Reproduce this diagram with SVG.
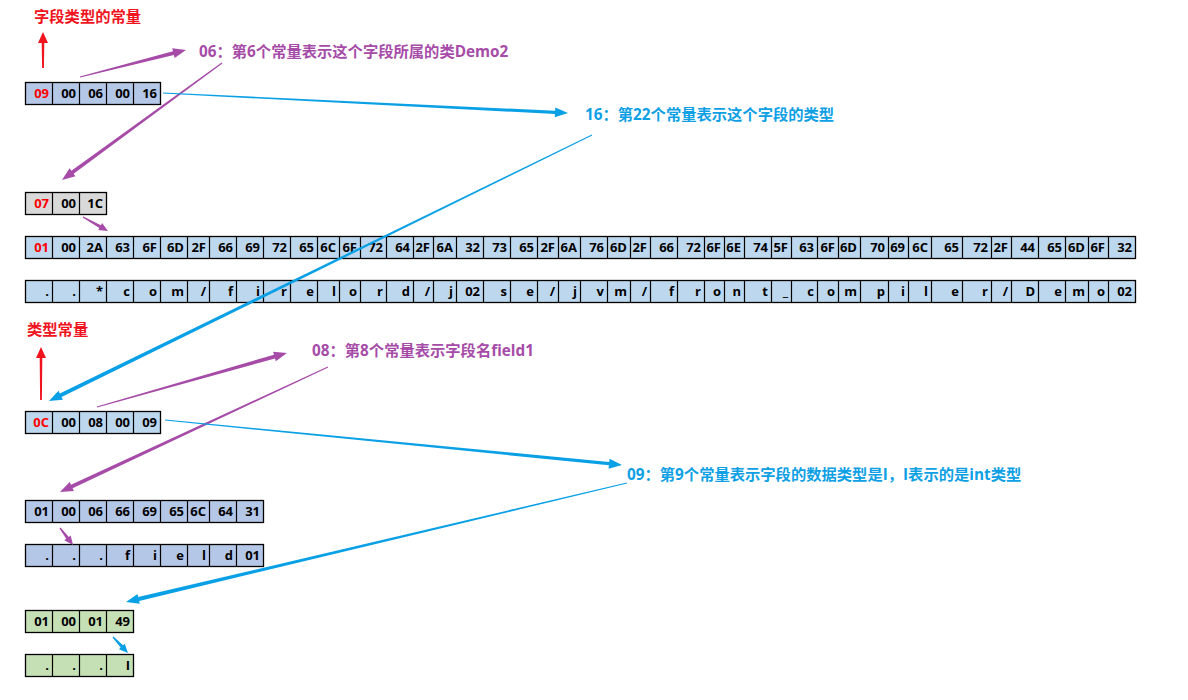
<svg xmlns="http://www.w3.org/2000/svg" width="1188" height="700" viewBox="0 0 1188 700">
<style>
.c{font-family:"Open Sans","Noto Sans CJK SC",sans-serif;font-weight:bold;font-size:13px;fill:#000;text-anchor:end}
.r{fill:#ff0000}
.lbl{font-family:"Open Sans","Noto Sans CJK SC",sans-serif;font-weight:bold;font-size:15.3px}
.pt{fill:#a64ca8}
.bt{fill:#0ea0e4}
.rt{fill:#f0141e}
.b1{fill:#b4c7e7}
.b2{fill:#bdd7ee}
.gy{fill:#d9d9d9}
.gr{fill:#c5e0b4}
.bx{stroke:#000;stroke-width:1.3}
.ln{stroke:#000;stroke-width:1.2;fill:none}
.pa{fill:#a64ca8}
.ba{fill:#0aa0e6}
.ra{fill:#f0141e}
</style>
<rect width="1188" height="700" fill="#fff"/>

<g id="label-field-type">
<text class="lbl rt" x="34" y="22">字段类型的常量</text>
</g>
<g id="label-06">
<text class="lbl pt" x="199" y="57">06：第6个常量表示这个字段所属的类Demo2</text>
</g>
<g id="label-16">
<text class="lbl bt" x="585" y="120">16：第22个常量表示这个字段的类型</text>
</g>
<g id="label-type-const">
<text class="lbl rt" x="27" y="335">类型常量</text>
</g>
<g id="label-08">
<text class="lbl pt" x="312" y="356">08：第8个常量表示字段名field1</text>
</g>
<g id="label-09">
<text class="lbl bt" x="627" y="480">09：第9个常量表示字段的数据类型是I，I表示的是int类型</text>
</g>

<g id="table-field">
<rect class="b1 bx" x="25.5" y="82.5" width="135" height="22"/>
<path class="ln" d="M52.5 82.5V104.5M79.5 82.5V104.5M106.5 82.5V104.5M133.5 82.5V104.5"/>
<text class="c r" x="49" y="98">09</text><text class="c" x="76" y="98">00</text><text class="c" x="103" y="98">06</text><text class="c" x="130" y="98">00</text><text class="c" x="157" y="98">16</text>
</g>

<g id="table-class">
<rect class="gy bx" x="25.5" y="192.5" width="81" height="22"/>
<path class="ln" d="M52.5 192.5V214.5M79.5 192.5V214.5"/>
<text class="c r" x="49" y="208">07</text><text class="c" x="76" y="208">00</text><text class="c" x="103" y="208">1C</text>
</g>

<g id="utf8-classname-hex">
<rect class="b2 bx" x="25.5" y="236.5" width="1110" height="22"/>
<path class="ln" d="M52.5 236.5V258.5M79.5 236.5V258.5M106.5 236.5V258.5M133.5 236.5V258.5M160.5 236.5V258.5M187.5 236.5V258.5M209.5 236.5V258.5M236.5 236.5V258.5M263.5 236.5V258.5M290.5 236.5V258.5M317.5 236.5V258.5M339.5 236.5V258.5M360.5 236.5V258.5M386.5 236.5V258.5M413.5 236.5V258.5M433.5 236.5V258.5M456.5 236.5V258.5M483.5 236.5V258.5M510.5 236.5V258.5M537.5 236.5V258.5M558.5 236.5V258.5M580.5 236.5V258.5M607.5 236.5V258.5M630.5 236.5V258.5M650.5 236.5V258.5M677.5 236.5V258.5M704.5 236.5V258.5M724.5 236.5V258.5M744.5 236.5V258.5M771.5 236.5V258.5M791.5 236.5V258.5M817.5 236.5V258.5M838.5 236.5V258.5M860.5 236.5V258.5M888.5 236.5V258.5M908.5 236.5V258.5M931.5 236.5V258.5M962.5 236.5V258.5M991.5 236.5V258.5M1011.5 236.5V258.5M1038.5 236.5V258.5M1065.5 236.5V258.5M1088.5 236.5V258.5M1108.5 236.5V258.5"/>
<text class="c r" x="49" y="252">01</text>
<text class="c" x="76" y="252">00</text>
<text class="c" x="103" y="252">2A</text>
<text class="c" x="130" y="252">63</text>
<text class="c" x="157" y="252">6F</text>
<text class="c" x="184" y="252">6D</text>
<text class="c" x="206" y="252">2F</text>
<text class="c" x="233" y="252">66</text>
<text class="c" x="260" y="252">69</text>
<text class="c" x="287" y="252">72</text>
<text class="c" x="314" y="252">65</text>
<text class="c" x="336" y="252">6C</text>
<text class="c" x="357" y="252">6F</text>
<text class="c" x="383" y="252">72</text>
<text class="c" x="410" y="252">64</text>
<text class="c" x="430" y="252">2F</text>
<text class="c" x="453" y="252">6A</text>
<text class="c" x="480" y="252">32</text>
<text class="c" x="507" y="252">73</text>
<text class="c" x="534" y="252">65</text>
<text class="c" x="555" y="252">2F</text>
<text class="c" x="577" y="252">6A</text>
<text class="c" x="604" y="252">76</text>
<text class="c" x="627" y="252">6D</text>
<text class="c" x="647" y="252">2F</text>
<text class="c" x="674" y="252">66</text>
<text class="c" x="701" y="252">72</text>
<text class="c" x="721" y="252">6F</text>
<text class="c" x="741" y="252">6E</text>
<text class="c" x="768" y="252">74</text>
<text class="c" x="788" y="252">5F</text>
<text class="c" x="814" y="252">63</text>
<text class="c" x="835" y="252">6F</text>
<text class="c" x="857" y="252">6D</text>
<text class="c" x="885" y="252">70</text>
<text class="c" x="905" y="252">69</text>
<text class="c" x="928" y="252">6C</text>
<text class="c" x="959" y="252">65</text>
<text class="c" x="988" y="252">72</text>
<text class="c" x="1008" y="252">2F</text>
<text class="c" x="1035" y="252">44</text>
<text class="c" x="1062" y="252">65</text>
<text class="c" x="1085" y="252">6D</text>
<text class="c" x="1105" y="252">6F</text>
<text class="c" x="1132" y="252">32</text>
</g>

<g id="utf8-classname-text">
<rect class="b2 bx" x="25.5" y="280.5" width="1110" height="22"/>
<path class="ln" d="M52.5 280.5V302.5M79.5 280.5V302.5M106.5 280.5V302.5M133.5 280.5V302.5M160.5 280.5V302.5M187.5 280.5V302.5M209.5 280.5V302.5M236.5 280.5V302.5M263.5 280.5V302.5M290.5 280.5V302.5M317.5 280.5V302.5M339.5 280.5V302.5M360.5 280.5V302.5M386.5 280.5V302.5M413.5 280.5V302.5M433.5 280.5V302.5M456.5 280.5V302.5M483.5 280.5V302.5M510.5 280.5V302.5M537.5 280.5V302.5M558.5 280.5V302.5M580.5 280.5V302.5M607.5 280.5V302.5M630.5 280.5V302.5M650.5 280.5V302.5M677.5 280.5V302.5M704.5 280.5V302.5M724.5 280.5V302.5M744.5 280.5V302.5M771.5 280.5V302.5M791.5 280.5V302.5M817.5 280.5V302.5M838.5 280.5V302.5M860.5 280.5V302.5M888.5 280.5V302.5M908.5 280.5V302.5M931.5 280.5V302.5M962.5 280.5V302.5M991.5 280.5V302.5M1011.5 280.5V302.5M1038.5 280.5V302.5M1065.5 280.5V302.5M1088.5 280.5V302.5M1108.5 280.5V302.5"/>
<text class="c" x="49" y="296">.</text>
<text class="c" x="76" y="296">.</text>
<text class="c" x="103" y="296">*</text>
<text class="c" x="130" y="296">c</text>
<text class="c" x="157" y="296">o</text>
<text class="c" x="184" y="296">m</text>
<text class="c" x="206" y="296">/</text>
<text class="c" x="233" y="296">f</text>
<text class="c" x="260" y="296">i</text>
<text class="c" x="287" y="296">r</text>
<text class="c" x="314" y="296">e</text>
<text class="c" x="336" y="296">l</text>
<text class="c" x="357" y="296">o</text>
<text class="c" x="383" y="296">r</text>
<text class="c" x="410" y="296">d</text>
<text class="c" x="430" y="296">/</text>
<text class="c" x="453" y="296">j</text>
<text class="c" x="480" y="296">02</text>
<text class="c" x="507" y="296">s</text>
<text class="c" x="534" y="296">e</text>
<text class="c" x="555" y="296">/</text>
<text class="c" x="577" y="296">j</text>
<text class="c" x="604" y="296">v</text>
<text class="c" x="627" y="296">m</text>
<text class="c" x="647" y="296">/</text>
<text class="c" x="674" y="296">f</text>
<text class="c" x="701" y="296">r</text>
<text class="c" x="721" y="296">o</text>
<text class="c" x="741" y="296">n</text>
<text class="c" x="768" y="296">t</text>
<text class="c" x="788" y="296">_</text>
<text class="c" x="814" y="296">c</text>
<text class="c" x="835" y="296">o</text>
<text class="c" x="857" y="296">m</text>
<text class="c" x="885" y="296">p</text>
<text class="c" x="905" y="296">i</text>
<text class="c" x="928" y="296">l</text>
<text class="c" x="959" y="296">e</text>
<text class="c" x="988" y="296">r</text>
<text class="c" x="1008" y="296">/</text>
<text class="c" x="1035" y="296">D</text>
<text class="c" x="1062" y="296">e</text>
<text class="c" x="1085" y="296">m</text>
<text class="c" x="1105" y="296">o</text>
<text class="c" x="1132" y="296">02</text>
</g>

<g id="table-nameandtype">
<rect class="b2 bx" x="25.5" y="411.5" width="135" height="22"/>
<path class="ln" d="M52.5 411.5V433.5M79.5 411.5V433.5M106.5 411.5V433.5M133.5 411.5V433.5"/>
<text class="c r" x="49" y="427">0C</text><text class="c" x="76" y="427">00</text><text class="c" x="103" y="427">08</text><text class="c" x="130" y="427">00</text><text class="c" x="157" y="427">09</text>
</g>

<g id="utf8-field1-hex">
<rect class="b1 bx" x="25.5" y="500.5" width="238" height="22"/>
<path class="ln" d="M52.5 500.5V522.5M79.5 500.5V522.5M106.5 500.5V522.5M133.5 500.5V522.5M160.5 500.5V522.5M187.5 500.5V522.5M209.5 500.5V522.5M236.5 500.5V522.5"/>
<text class="c" x="49" y="516">01</text><text class="c" x="76" y="516">00</text><text class="c" x="103" y="516">06</text><text class="c" x="130" y="516">66</text><text class="c" x="157" y="516">69</text><text class="c" x="184" y="516">65</text><text class="c" x="206" y="516">6C</text><text class="c" x="233" y="516">64</text><text class="c" x="260" y="516">31</text>
</g>

<g id="utf8-field1-text">
<rect class="b1 bx" x="25.5" y="544.5" width="238" height="22"/>
<path class="ln" d="M52.5 544.5V566.5M79.5 544.5V566.5M106.5 544.5V566.5M133.5 544.5V566.5M160.5 544.5V566.5M187.5 544.5V566.5M209.5 544.5V566.5M236.5 544.5V566.5"/>
<text class="c" x="49" y="560">.</text><text class="c" x="76" y="560">.</text><text class="c" x="103" y="560">.</text><text class="c" x="130" y="560">f</text><text class="c" x="157" y="560">i</text><text class="c" x="184" y="560">e</text><text class="c" x="206" y="560">l</text><text class="c" x="233" y="560">d</text><text class="c" x="260" y="560">01</text>
</g>

<g id="utf8-I-hex">
<rect class="gr bx" x="25.5" y="610.5" width="108" height="22"/>
<path class="ln" d="M52.5 610.5V632.5M79.5 610.5V632.5M106.5 610.5V632.5"/>
<text class="c" x="49" y="626">01</text><text class="c" x="76" y="626">00</text><text class="c" x="103" y="626">01</text><text class="c" x="130" y="626">49</text>
</g>

<g id="utf8-I-text">
<rect class="gr bx" x="25.5" y="654.5" width="108" height="22"/>
<path class="ln" d="M52.5 654.5V676.5M79.5 654.5V676.5M106.5 654.5V676.5"/>
<text class="c" x="49" y="670">.</text><text class="c" x="76" y="670">.</text><text class="c" x="103" y="670">.</text><text class="c" x="130" y="670">I</text>
</g>

<g id="connectors">
<polygon class="ra" transform="translate(43,68) rotate(-90)" points="0,-0.9 25,-1.3 25,-5 36,0 25,5 25,1.3 0,0.9"/>
<polygon class="ra" transform="translate(41,400) rotate(-90)" points="0,-0.9 42,-1.3 42,-5 53,0 42,5 42,1.3 0,0.9"/>
<polygon class="pa" transform="translate(80,77) rotate(-14.29)" points="0,-0.6 96.4,-1.9 96.4,-5 109.4,0 96.4,5 96.4,1.9 0,0.6"/>
<polygon class="pa" transform="translate(222,63) rotate(143.83)" points="0,-0.6 185.2,-1.9 185.2,-5 198.2,0 185.2,5 185.2,1.9 0,0.6"/>
<polygon class="pa" transform="translate(83,217) rotate(29.25)" points="0,-0.7 19.65,-1.6 19.65,-4 28.65,0 19.65,4 19.65,1.6 0,0.7"/>
<polygon class="pa" transform="translate(97,407) rotate(-15.87)" points="0,-0.6 184.5,-1.9 184.5,-5 197.5,0 184.5,5 184.5,1.9 0,0.6"/>
<polygon class="pa" transform="translate(328,367) rotate(155)" points="0,-0.5 282.7,-1.9 282.7,-5 295.7,0 282.7,5 282.7,1.9 0,0.5"/>
<polygon class="pa" transform="translate(60,528) rotate(52.6)" points="0,-0.7 12.4,-1.6 12.4,-4 21.4,0 12.4,4 12.4,1.6 0,0.7"/>
<polygon class="ba" transform="translate(163,93) rotate(2.83)" points="0,-0.6 392.5,-1.6 392.5,-5 405.5,0 392.5,5 392.5,1.6 0,0.6"/>
<polygon class="ba" transform="translate(592,135) rotate(153.9)" points="0,-0.5 591.65,-2 591.65,-5 604.65,0 591.65,5 591.65,2 0,0.5"/>
<polygon class="ba" transform="translate(165,420) rotate(5.62)" points="0,-0.6 446.2,-1.6 446.2,-5 459.2,0 446.2,5 446.2,1.6 0,0.6"/>
<polygon class="ba" transform="translate(627,483) rotate(166.64)" points="0,-0.5 501.9,-2 501.9,-5 514.9,0 501.9,5 501.9,2 0,0.5"/>
<polygon class="ba" transform="translate(113,637) rotate(46.8)" points="0,-0.7 12.9,-1.6 12.9,-4 21.9,0 12.9,4 12.9,1.6 0,0.7"/>
</g>
</svg>
